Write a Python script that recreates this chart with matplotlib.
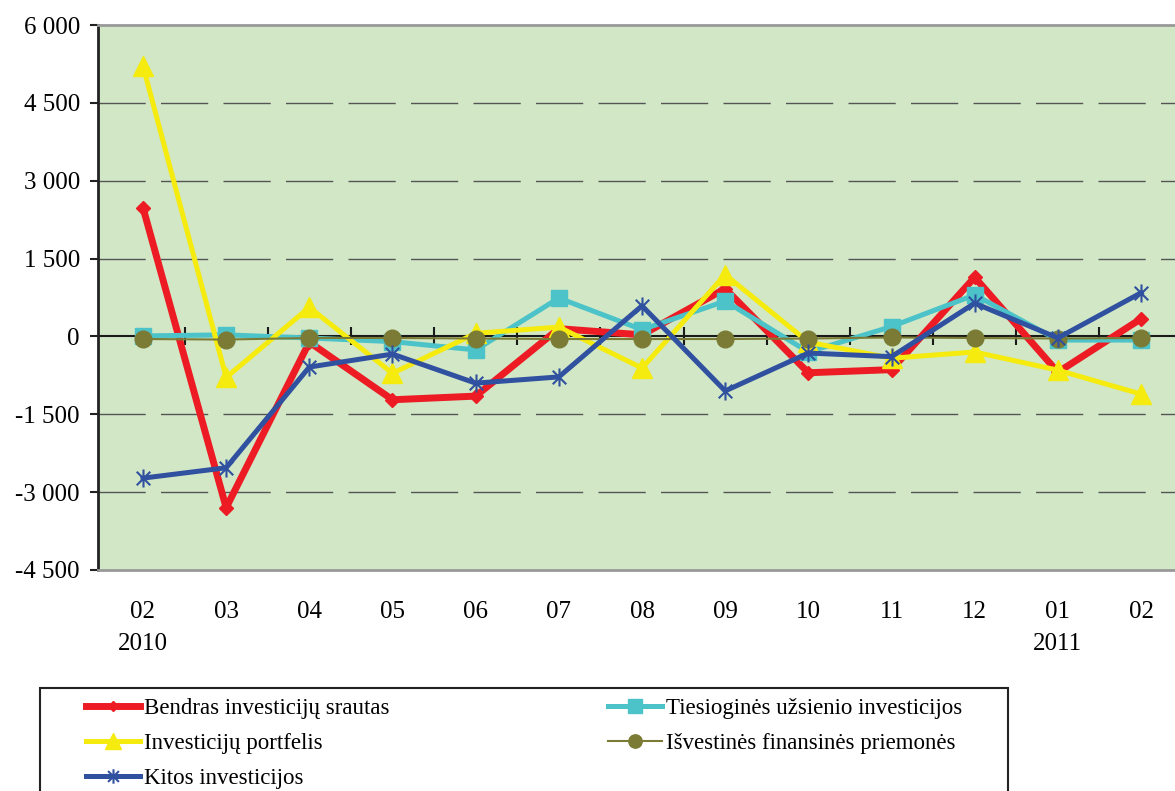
import numpy as np
import matplotlib.pyplot as plt
from matplotlib.path import Path
from matplotlib.patches import Rectangle

plt.rcParams['font.family'] = ['Liberation Serif', 'DejaVu Serif']

months = ['02', '03', '04', '05', '06', '07', '08', '09', '10', '11', '12', '01', '02']
years = {0: '2010', 11: '2011'}

bendras = [2480, -3300, -110, -1220, -1150, 150, 30, 920, -700, -640, 1140, -690, 340]
tiesiogines = [10, 30, -30, -100, -260, 740, 130, 680, -300, 190, 800, -70, -70]
portfelis = [5210, -790, 560, -710, 60, 180, -610, 1190, -110, -420, -300, -650, -1110]
isvestines = [-50, -60, -30, -30, -40, -50, -50, -50, -40, -20, -30, -40, -30]
kitos = [-2730, -2530, -590, -340, -900, -780, 590, -1050, -320, -390, 640, -30, 840]

yticks = [-4500, -3000, -1500, 0, 1500, 3000, 4500, 6000]

# excel-like asterisk marker
star = Path([(0, -1), (0, 1), (-0.75, -0.75), (0.75, 0.75), (-0.75, 0.75), (0.75, -0.75)],
            [Path.MOVETO, Path.LINETO, Path.MOVETO, Path.LINETO, Path.MOVETO, Path.LINETO])

fig = plt.figure(figsize=(11.75, 7.91), dpi=100)
ax = fig.add_axes([98 / 1175, 1 - 570 / 791, 1084.6 / 1175, 545 / 791])
ax.set_facecolor('#d1e7c5')

x = np.arange(len(months))

for yv in yticks[1:-1]:
    if yv == 0:
        continue
    ax.axhline(yv, color='#555555', lw=1, ls=(0, (34, 11)), zorder=1)
ax.axhline(0, color='#1a1a1a', lw=1.5, zorder=1)
ax.plot(x[:-1] + 0.5, np.zeros(len(x) - 1), ls='none', marker='|', ms=13, mew=1.5,
        color='#1a1a1a', zorder=1)

h_bend, = ax.plot(x, bendras, color='#ed1c24', lw=5, marker='D', ms=7,
                  label='Bendras investicijų srautas', zorder=3)
h_ties, = ax.plot(x, tiesiogines, color='#4bc3c8', lw=3.6, marker='s', ms=12,
                  label='Tiesioginės užsienio investicijos', zorder=4)
h_port, = ax.plot(x, portfelis, color='#f5eb0f', lw=3.6, marker='^', ms=15,
                  label='Investicijų portfelis', zorder=5)
h_isv, = ax.plot(x, isvestines, color='#7b7b35', lw=1.5, marker='o', ms=12,
                 label='Išvestinės finansinės priemonės', zorder=6)
h_kit, = ax.plot(x, kitos, color='#3050a0', lw=3.6, marker=star, ms=13, mew=1.5,
                 label='Kitos investicijos', zorder=7)

ax.set_xlim(-0.541, len(months) - 0.5)
ax.set_ylim(-4500, 6000)
ax.set_yticks(yticks)
ax.set_yticklabels([f'{v:,}'.replace(',', ' ') for v in yticks], fontsize=18)
ax.set_xticks(x)
ax.set_xticklabels([m + ('\n' + years[i] if i in years else '') for i, m in enumerate(months)],
                   fontsize=18, linespacing=1.6, va='top')
ax.tick_params(axis='x', length=0, pad=22)
ax.tick_params(axis='y', length=6, width=1.5, color='#222222', pad=7, direction='out')

ax.spines['left'].set_color('#222222')
ax.spines['left'].set_linewidth(2)
for side in ('top', 'bottom'):
    ax.spines[side].set_color('#999999')
    ax.spines[side].set_linewidth(2)
ax.spines['right'].set_visible(False)

# legend frame drawn by hand, runs off the bottom of the image
fig.patches.append(Rectangle((40 / 1175, -0.05), (1008 - 40) / 1175, 1 - 688 / 791 + 0.05,
                             transform=fig.transFigure, fill=False, ec='#222222', lw=1.5))
fig.legend(handles=[h_bend, h_port, h_kit, h_ties, h_isv], ncol=2, frameon=False,
           loc='upper left', bbox_to_anchor=(70 / 1175, 1 - 682 / 791),
           fontsize=16.5, handlelength=2.35, handletextpad=0.2, labelspacing=0.6,
           columnspacing=9.5, borderpad=0.2, markerscale=0.8)

fig.savefig('out.png', dpi=100)
